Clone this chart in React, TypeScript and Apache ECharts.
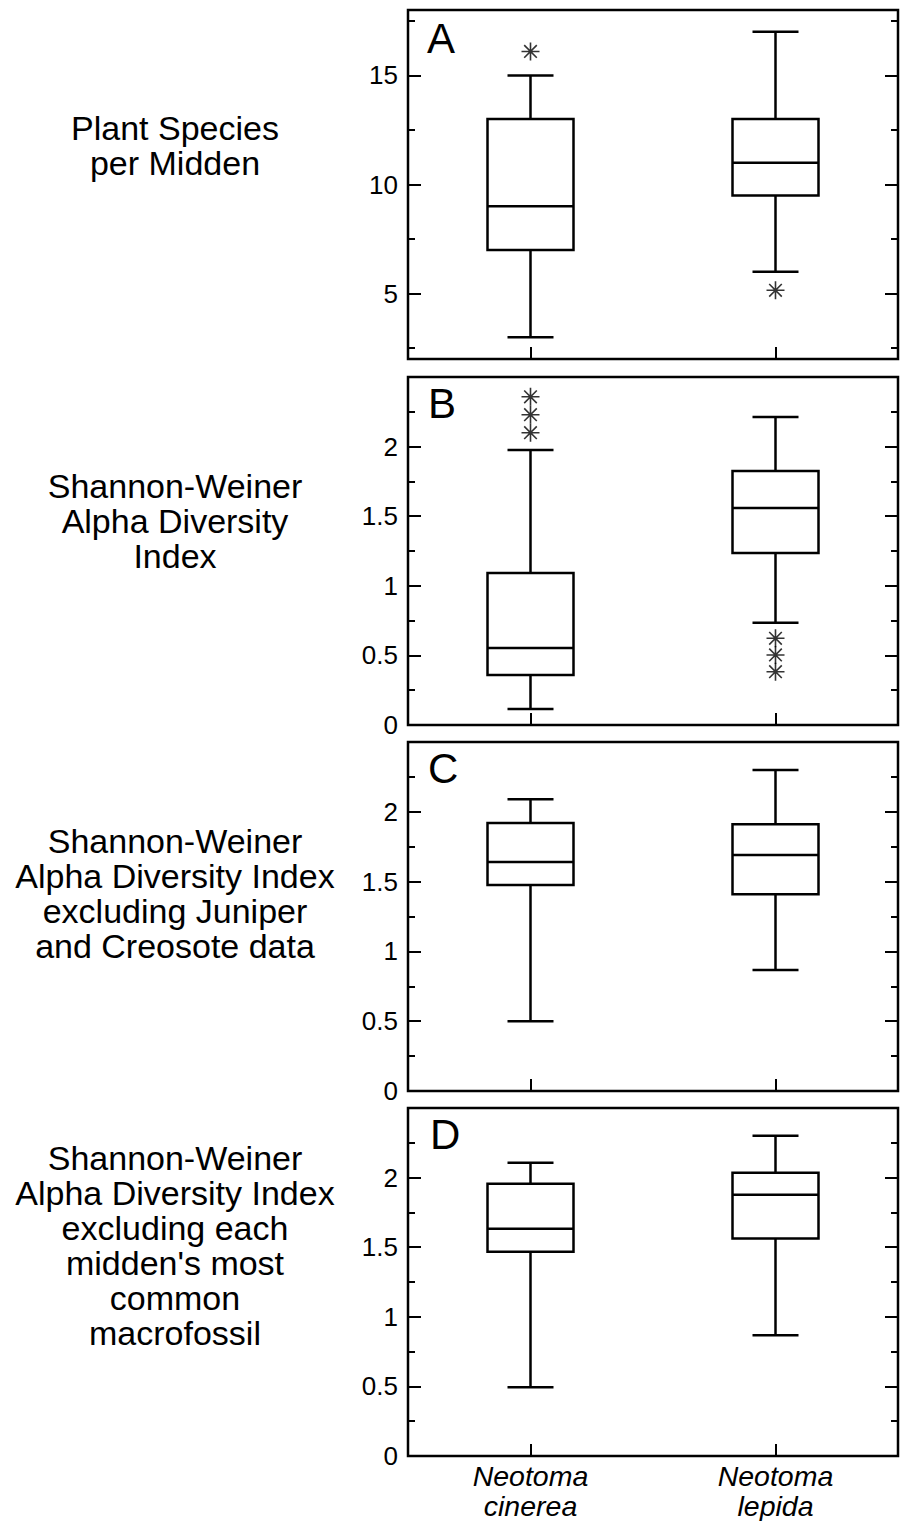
import React, { useEffect, useRef } from "react";
import * as echarts from "echarts";

const categories = ["Neotoma\ncinerea", "Neotoma\nlepida"];
const panelLetters = ["A", "B", "C", "D"];
const panelTitles = [
  "Plant Species\nper Midden",
  "Shannon-Weiner\nAlpha Diversity\nIndex",
  "Shannon-Weiner\nAlpha Diversity Index\nexcluding Juniper\nand Creosote data",
  "Shannon-Weiner\nAlpha Diversity Index\nexcluding each\nmidden's most\ncommon\nmacrofossil",
];

// [low whisker, Q1, median, Q3, high whisker] per category
const boxA = [
  [3, 7, 9, 13, 15],
  [6, 9.5, 11, 13, 17],
];
const boxB = [
  [0.115, 0.36, 0.553, 1.092, 1.976],
  [0.735, 1.236, 1.559, 1.825, 2.213],
];
const boxC = [
  [0.5, 1.476, 1.64, 1.92, 2.09],
  [0.867, 1.41, 1.69, 1.91, 2.3],
];
const boxD = [
  [0.494, 1.468, 1.633, 1.956, 2.106],
  [0.867, 1.562, 1.877, 2.034, 2.3],
];
// [category index, value]
const outA = [
  [0, 16.1],
  [1, 5.15],
];
const outB = [
  [0, 2.358],
  [0, 2.229],
  [0, 2.1],
  [1, 0.623],
  [1, 0.503],
  [1, 0.383],
];
const outC: number[][] = [];
const outD: number[][] = [];

const yMinA = 2;
const yMaxA = 18;
const yMajorA = [5, 10, 15];
const yMinorA = [2.5, 7.5, 12.5, 17.5];
const yMinH = 0;
const yMaxH = 2.5;
const yLabelsH = [0, 0.5, 1, 1.5, 2];
const yMajorH = [0.5, 1, 1.5, 2];
const yMinorH = [0.25, 0.75, 1.25, 1.75, 2.25];

const FONT = '"Liberation Sans", Arial, Helvetica, sans-serif';

export default function App() {
  const ref = useRef<HTMLDivElement>(null);
  useEffect(() => {
    if (!ref.current) return;
    const chart = echarts.init(ref.current, undefined, { renderer: "svg" });

    const panels = [
      { top: 10, height: 349, box: boxA, out: outA, min: yMinA, max: yMaxA, labels: yMajorA, major: yMajorA, minor: yMinorA, titleY: 145, letterY: 38, letterX: 427 },
      { top: 377, height: 348, box: boxB, out: outB, min: yMinH, max: yMaxH, labels: yLabelsH, major: yMajorH, minor: yMinorH, titleY: 521, letterY: 403, letterX: 428 },
      { top: 742, height: 349, box: boxC, out: outC, min: yMinH, max: yMaxH, labels: yLabelsH, major: yMajorH, minor: yMinorH, titleY: 893, letterY: 768, letterX: 428 },
      { top: 1108, height: 349, box: boxD, out: outD, min: yMinH, max: yMaxH, labels: yLabelsH, major: yMajorH, minor: yMinorH, titleY: 1245, letterY: 1134, letterX: 430 },
    ];

    const grid: any[] = [];
    const xAxis: any[] = [];
    const yAxis: any[] = [];
    const series: any[] = [];
    const graphic: any[] = [];

    const asterisk = "path://M10 0 L10 20 M0 10 L20 10 M3 3 L17 17 M3 17 L17 3";

    panels.forEach((p, i) => {
      grid.push({
        left: 408,
        width: 490,
        top: p.top,
        height: p.height,
        show: true,
        borderColor: "#000",
        borderWidth: 2.5,
        backgroundColor: "transparent",
      });
      xAxis.push({
        type: "category",
        gridIndex: i,
        data: categories,
        boundaryGap: true,
        axisLine: { show: false },
        axisTick: { show: true, inside: true, alignWithLabel: true, length: 12, lineStyle: { color: "#000", width: 2 } },
        axisLabel: {
          show: i === 3,
          fontFamily: FONT,
          fontStyle: "italic",
          fontSize: 28.5,
          lineHeight: 30,
          color: "#000",
          margin: 5,
        },
        splitLine: { show: false },
      });
      const base = yAxis.length;
      const mk = (pos: string, showLabel: boolean, ticks: number[], len: number) => ({
        type: "value",
        gridIndex: i,
        position: pos,
        min: p.min,
        max: p.max,
        axisLine: { show: false },
        splitLine: { show: false },
        axisTick: { show: true, inside: true, length: len, customValues: ticks, lineStyle: { color: "#000", width: 2 } },
        axisLabel: {
          show: showLabel,
          customValues: p.labels,
          fontFamily: FONT,
          fontSize: 26,
          color: "#000",
          margin: 10,
        },
      });
      yAxis.push(mk("left", true, p.major, 13));
      yAxis.push(mk("left", false, p.minor, 7));
      yAxis.push(mk("right", false, p.major, 13));
      yAxis.push(mk("right", false, p.minor, 7));

      series.push({
        type: "custom",
        xAxisIndex: i,
        yAxisIndex: base,
        encode: { x: 0, y: [1, 2, 3, 4, 5] },
        data: p.box.map((b, k) => [k, ...b]),
        renderItem: (params: any, api: any) => {
          const c = api.value(0);
          const yLow = api.coord([c, api.value(1)])[1];
          const yQ1 = api.coord([c, api.value(2)])[1];
          const yMed = api.coord([c, api.value(3)])[1];
          const yQ3 = api.coord([c, api.value(4)])[1];
          const yHigh = api.coord([c, api.value(5)])[1];
          const x = api.coord([c, api.value(3)])[0];
          const hb = 43;
          const hc = 23;
          const st = { stroke: "#000", lineWidth: 2.5, fill: "none" };
          return {
            type: "group",
            children: [
              { type: "line", shape: { x1: x, y1: yHigh, x2: x, y2: yQ3 }, style: st },
              { type: "line", shape: { x1: x, y1: yQ1, x2: x, y2: yLow }, style: st },
              { type: "line", shape: { x1: x - hc, y1: yHigh, x2: x + hc, y2: yHigh }, style: st },
              { type: "line", shape: { x1: x - hc, y1: yLow, x2: x + hc, y2: yLow }, style: st },
              { type: "rect", shape: { x: x - hb, y: yQ3, width: hb * 2, height: yQ1 - yQ3 }, style: { stroke: "#000", lineWidth: 2.5, fill: "#fff" } },
              { type: "line", shape: { x1: x - hb, y1: yMed, x2: x + hb, y2: yMed }, style: st },
            ],
          };
        },
      });
      if (p.out.length) {
        series.push({
          type: "scatter",
          xAxisIndex: i,
          yAxisIndex: base,
          data: p.out,
          symbol: asterisk,
          symbolSize: 18,
          itemStyle: { color: "transparent", borderColor: "#000", borderWidth: 1.6 },
          z: 5,
        });
      }

      graphic.push({
        type: "text",
        x: 175,
        y: p.titleY,
        style: {
          text: panelTitles[i],
          fontFamily: FONT,
          fontSize: 34,
          lineHeight: 35,
          fill: "#000",
          align: "center",
          verticalAlign: "middle",
        },
      });
      graphic.push({
        type: "text",
        x: p.letterX,
        y: p.letterY,
        style: {
          text: panelLetters[i],
          fontFamily: FONT,
          fontSize: 42,
          fill: "#000",
          align: "left",
          verticalAlign: "middle",
        },
      });
    });

    chart.setOption({
      animation: false,
      backgroundColor: "#fff",
      grid,
      xAxis,
      yAxis,
      series,
      graphic,
    });
    return () => chart.dispose();
  }, []);
  return (
    <div
      ref={ref}
      style={{ position: "absolute", left: 0, top: 0, width: 900, height: 1521 }}
    />
  );
}
